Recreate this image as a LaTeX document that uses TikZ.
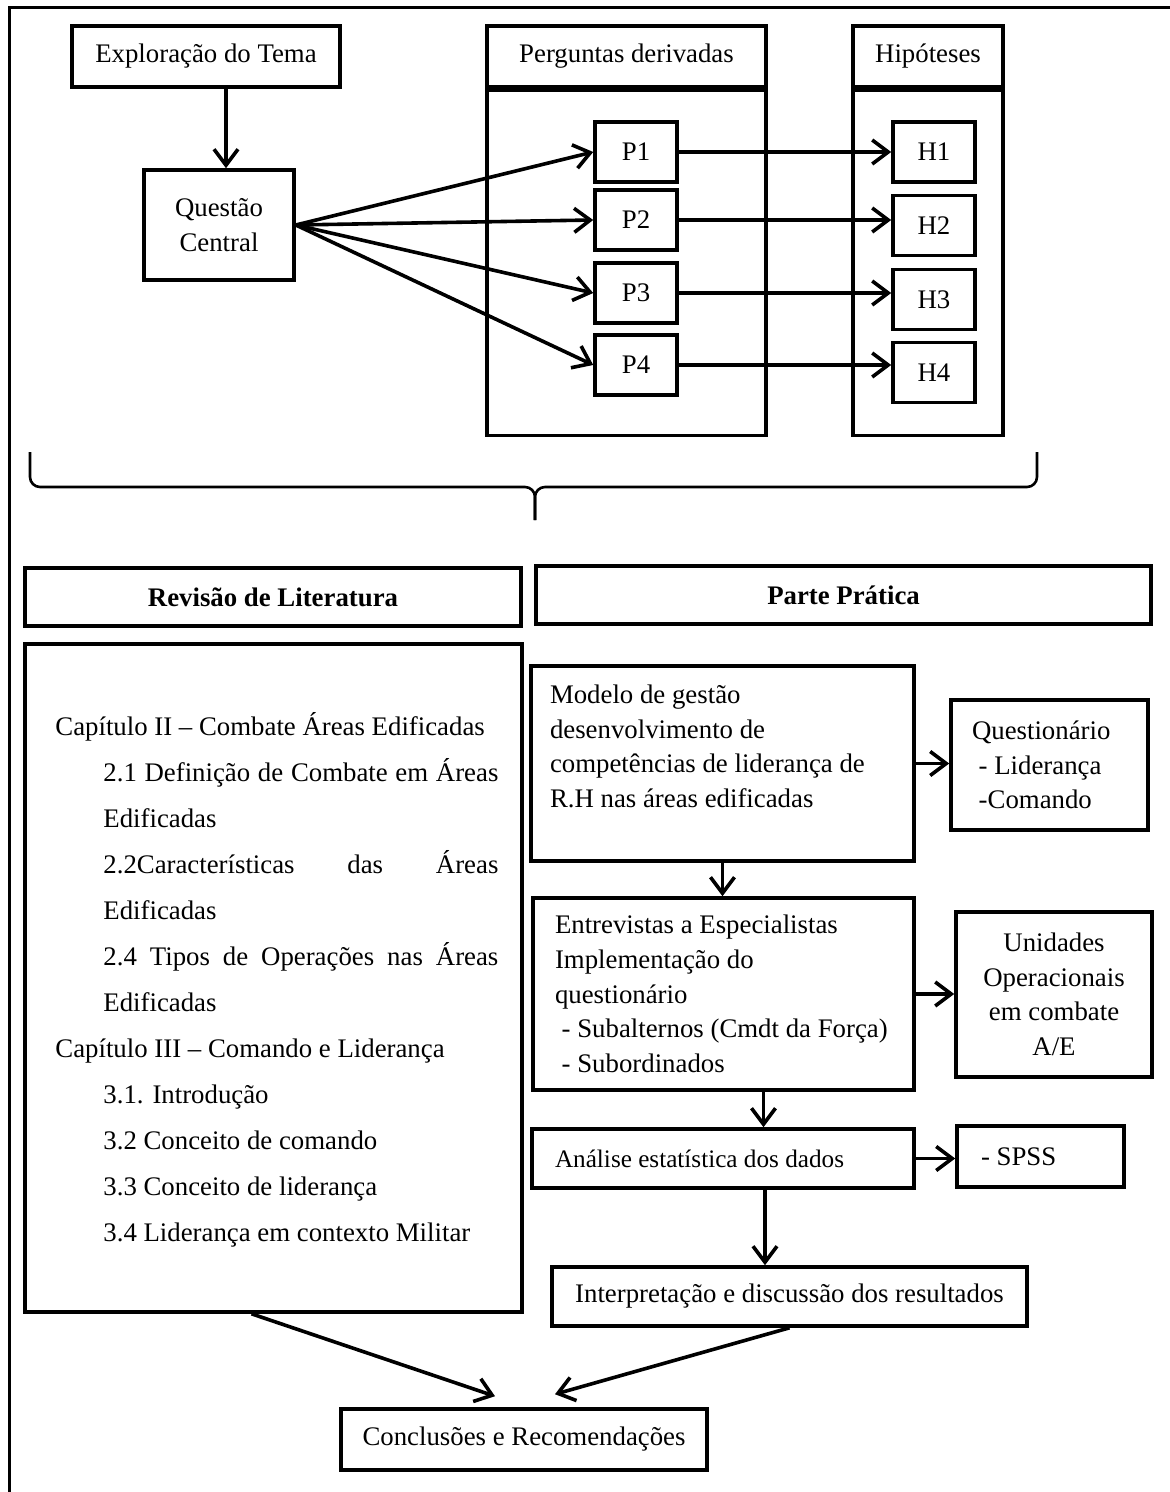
\documentclass[tikz,border=0pt]{standalone}
\usepackage{fontspec}
\setmainfont{Liberation Serif}
\tikzset{every picture/.style={/utils/exec={\fontsize{13.4}{17.3}\selectfont}}}
\usetikzlibrary{calc}
\usetikzlibrary{arrows.meta}
\tikzset{box/.style={ % Framed box, text centred
           draw, line width=1.8pt, inner sep=0pt, align=center},
         leftbox/.style={ % Framed box, text set from the left
           box, align=flush left},
         arr/.style={  % Thick arrow with open head
           draw, line width=1.8pt,
           -{Straight Barb[length=8pt,width=12pt]}},
         bracket/.style={ % The big brace
           draw, line width=1.3pt, rounded corners=5pt},
         frame/.style={draw, line width=1.5pt}}

\begin{document}
\begin{tikzpicture}[x=0.5pt, y=-0.5pt]
  \useasboundingbox (0,0) rectangle (1170,1492);
  \draw [frame] (1170,8) -- (9,8) -- (9,1492);

  \node [box, minimum width=134pt, minimum height=30.5pt] (explo) at (206,56.5) {Exploração do Tema};
  \node [box, minimum width=75pt, minimum height=55pt] (questao) at (219,225) {Questão\\Central};
  \node [box, minimum width=139.5pt, minimum height=30.5pt] (perghead) at (626.5,56.5) {Perguntas derivadas};
  \node [box, minimum width=139.5pt, minimum height=172.5pt, anchor=north] (pergbody) at (perghead.south) {};
  \node [box, minimum width=75pt, minimum height=30.5pt] (hiphead) at (928,56.5) {Hipóteses};
  \node [box, minimum width=75pt, minimum height=172.5pt, anchor=north] (hipbody) at (hiphead.south) {};

  \draw [arr] ([xshift=3.5pt]questao.north |- explo.south) -- ([xshift=3.5pt]questao.north);

  \foreach \i/\py/\hy in {1/152/152, 2/220/225.5, 3/293/299.5, 4/365/372.5} {
    \node [box, minimum width=41pt, minimum height=30pt] (p\i) at (636,\py) {P\i};
    \node [box, minimum width=41pt, minimum height=30pt] (h\i) at (934,\hy) {H\i};
    \draw [arr] (questao.east) -- (p\i.west);
    \draw [arr] (p\i.east) -- (p\i.east -| h\i.west);
  }

  % brace
  \draw [bracket] (30,452) |- (535,487) -- (535,520);
  \draw [bracket] (1037,452) |- (535,487) -- (535,520);

  \node [box, font=\bfseries, minimum width=248pt, minimum height=29pt] (revhead) at (273,597) {Revisão de Literatura};
  \node [box, font=\bfseries, minimum width=307.5pt, minimum height=29pt] (parthead) at (843.5,595) {Parte Prática};

  \node [box, minimum width=248.5pt, minimum height=334pt] (revbody) at (273.5,978) {};
  \node [anchor=base west, text width=221.5pt, align=justify, inner sep=0pt,
         font={\fontsize{13.4}{23}\selectfont}] (revtext) at (55,735) {%
    \hyphenpenalty=10000 \exhyphenpenalty=10000
    Capítulo II -- Combate Áreas Edificadas\par
    {\leftskip=24pt
    2.1 Definição de Combate em Áreas Edificadas\par
    2.2Características das Áreas Edificadas\par
    2.4 Tipos de Operações nas Áreas Edificadas\par}
    Capítulo III -- Comando e Liderança\par
    {\leftskip=24pt
    3.1. Introdução\par
    3.2 Conceito de comando\par
    3.3 Conceito de liderança\par
    3.4 Liderança em contexto Militar\par}};

  \node [leftbox, text width=172.5pt, inner xsep=9.5pt, minimum height=97.5pt] (modelo) at (722.5,763.5)
    {Modelo de gestão\\ desenvolvimento de\\ competências de liderança de\\ R.H nas áreas edificadas\\ \mbox{}};
  \node [leftbox, text width=77.5pt, inner xsep=10.5pt, minimum height=65pt] (quest) at (1049.5,765)
    {Questionário\\ ~- Liderança\\ ~-Comando};
  \node [leftbox, text width=168.5pt, inner xsep=11pt, minimum height=96pt] (entrev) at (723.5,994)
    {Entrevistas a Especialistas\\ Implementação do\\ questionário\\ \mbox{~- Subalternos (Cmdt da Força)}\\ ~- Subordinados};
  \node [box, minimum width=98pt, minimum height=82.5pt] (unid) at (1054,994.5)
    {Unidades\\ Operacionais\\ em combate\\ A/E};
  \node [leftbox, text width=168pt, inner xsep=11.5pt, minimum height=29.5pt,
         font={\fontsize{12.6}{15}\selectfont}] (analise) at (723,1158.5)
    {Análise estatística dos dados};
  \node [leftbox, text width=59.5pt, inner xsep=12pt, minimum height=30.5pt] (spss) at (1040.5,1156.5) {- SPSS};
  \node [box, minimum width=237.5pt, minimum height=29.5pt] (interp) at (789.5,1296.5)
    {Interpretação e discussão dos resultados};
  \node [box, minimum width=183pt, minimum height=30.5pt] (concl) at (524,1439.5) {Conclusões e Recomendações};

  \draw [arr] (modelo.east) -- (modelo.east -| quest.west);
  \draw [arr] (modelo.south) -- (modelo.south |- entrev.north);
  \draw [arr] (entrev.east) -- (entrev.east -| unid.west);
  \draw [arr] ([xshift=20pt]entrev.south) -- ([xshift=20pt]entrev.south |- analise.north);
  \draw [arr] (analise.east) -- (analise.east -| spss.west);
  \draw [arr] ([xshift=21pt]analise.south) -- ([xshift=21pt]analise.south |- interp.north);
  \draw [arr] ([xshift=-11pt]revbody.south) -- ([xshift=-14.5pt,yshift=5.5pt]concl.north);
  \draw [arr] (interp.south) -- ([xshift=15.5pt,yshift=6.5pt]concl.north);
\end{tikzpicture}
\end{document}
